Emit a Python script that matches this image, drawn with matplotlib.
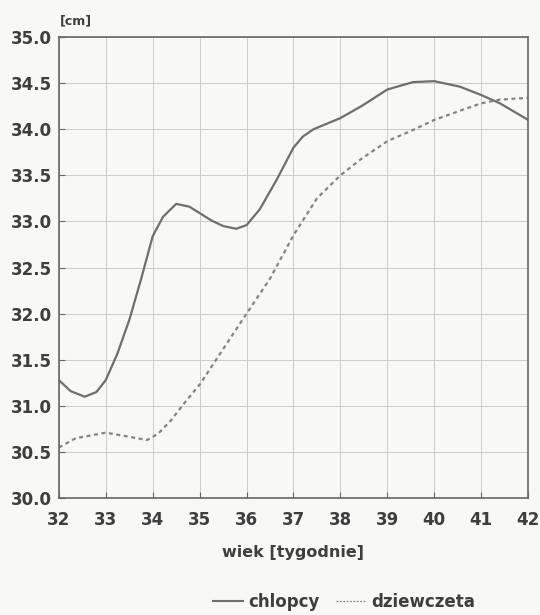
import matplotlib.pyplot as plt
from matplotlib.lines import Line2D

plt.rcParams['font.family'] = ['DejaVu Sans']
plt.rcParams['font.weight'] = 'bold'

# wiek (tygodnie) i obwod glowy [cm]
wiek_ch = [32, 32.25, 32.55, 32.8, 33, 33.25, 33.5, 33.75, 34, 34.22, 34.5, 34.78,
           35, 35.25, 35.5, 35.78, 36, 36.28, 36.64, 37, 37.2, 37.43, 38, 38.45, 39, 39.55,
           40, 40.55, 41, 41.4, 42]
chlopcy = [31.28, 31.16, 31.10, 31.15, 31.28, 31.57, 31.93, 32.37, 32.84, 33.05, 33.19, 33.16,
           33.09, 33.01, 32.95, 32.92, 32.96, 33.13, 33.45, 33.8, 33.92, 34.0, 34.12, 34.25,
           34.43, 34.51, 34.52, 34.46, 34.37, 34.28, 34.1]

wiek_dz = [32, 32.36, 33, 33.45, 33.88, 34.12, 34.4, 34.72, 35, 35.35, 35.7, 36, 36.5,
           37, 37.5, 38, 38.45, 39, 39.5, 40, 40.55, 41, 41.4, 42]
dziewczeta = [30.55, 30.65, 30.71, 30.67, 30.63, 30.7, 30.85, 31.06, 31.23, 31.5, 31.77, 32.0,
              32.38, 32.85, 33.25, 33.5, 33.68, 33.87, 33.98, 34.1, 34.2, 34.28, 34.32, 34.34]

x_ticks = list(range(32, 43))
y_ticks = [30.0, 30.5, 31.0, 31.5, 32.0, 32.5, 33.0, 33.5, 34.0, 34.5, 35.0]

fig = plt.figure(figsize=(5.4, 6.15), dpi=100, facecolor='#f8f8f6')
ax = fig.add_axes([0.109, 0.19, 0.869, 0.75])
ax.set_facecolor('#f8f8f6')

ax.plot(wiek_ch, chlopcy, color='#6e6e6e', lw=1.6, solid_joinstyle='round')
ax.plot(wiek_dz, dziewczeta, color='#848484', lw=1.6, linestyle=(0, (1.8, 1.6)))

ax.set_xlim(32, 42)
ax.set_ylim(30, 35)
ax.set_xticks(x_ticks)
ax.set_yticks(y_ticks)
ax.set_yticklabels([f'{v:.1f}' for v in y_ticks])
ax.grid(True, color='#cccccc', lw=0.7)
ax.tick_params(direction='in', length=4, colors='#666666', labelsize=12,
               labelcolor='#3e3e3e')
ax.tick_params(axis='x', pad=9)
ax.tick_params(axis='y', pad=5)
for s in ax.spines.values():
    s.set_color('#666666')
    s.set_linewidth(1.2)

ax.set_xlabel('wiek [tygodnie]', fontsize=11.5, fontweight='bold', color='#3e3e3e',
              labelpad=12)
fig.text(0.111, 0.955, '[cm]', fontsize=9, color='#3e3e3e', ha='left', va='bottom')

handles = [Line2D([], [], color='#6e6e6e', lw=1.5),
           Line2D([], [], color='#848484', lw=0.9, linestyle=(0, (1.5, 1.2)))]
fig.legend(handles, ['chlopcy', 'dziewczeta'], loc='center', ncol=2,
           bbox_to_anchor=(0.637, 0.021), frameon=False, fontsize=12,
           handlelength=1.8, handletextpad=0.3, columnspacing=1.0,
           labelcolor='#3e3e3e')

fig.savefig('out.png', dpi=100, facecolor=fig.get_facecolor())
